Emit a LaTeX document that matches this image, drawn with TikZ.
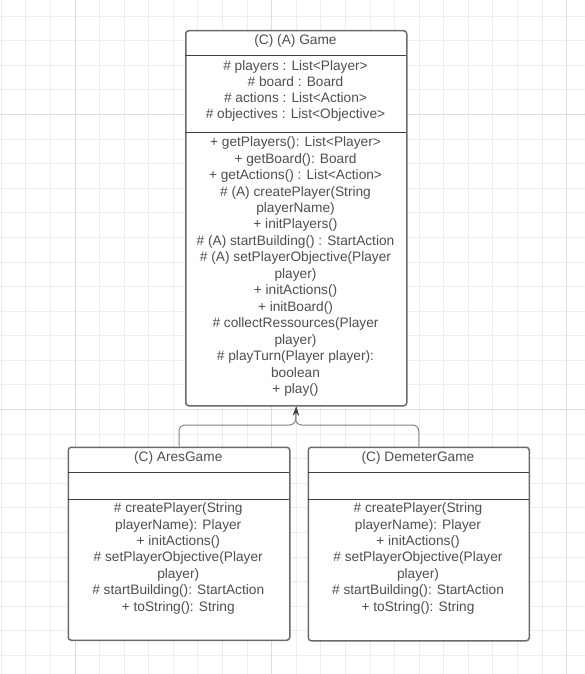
\documentclass[tikz,border=0pt]{standalone}
\usepackage{fontspec}
\setmainfont{Liberation Sans}
\usetikzlibrary{arrows.meta}
\definecolor{gridminor}{HTML}{EDEDED}
\definecolor{gridmajor}{HTML}{DCDCDC}
\definecolor{boxline}{HTML}{686B70}
\definecolor{divline}{HTML}{3E4045}
\definecolor{txtgray}{HTML}{4F4F4F}
\definecolor{connline}{HTML}{858585}
\begin{document}
\begin{tikzpicture}[x=1pt,y=-1pt,
  classbox/.style={rectangle, draw=boxline, line width=1.5pt, fill=white,
    rounded corners=3pt, anchor=north west, inner sep=0pt},
  divider/.style={draw=divline, line width=0.9pt},
  member/.style={font=\fontsize{13.7}{16}\selectfont, text=txtgray,
    anchor=mid, inner sep=0pt},
  inherit/.style={draw=connline, line width=1pt, rounded corners=6pt},
  tip/.style={-{Stealth[length=9pt,width=6pt,color=divline]}},
]
\useasboundingbox (0,0) rectangle (585,674);
\fill[white] (0,0) rectangle (585,674);

% background grid
\foreach \k in {0,...,23}
  \draw[gridminor, line width=1pt] ({1.25+24.585*\k},0) -- ({1.25+24.585*\k},674);
\foreach \k in {0,...,26}
  \draw[gridminor, line width=1pt] (0,{16.2+24.585*\k}) -- (585,{16.2+24.585*\k});
\foreach \k in {3,11,23}
  \draw[gridmajor, line width=1pt] ({1.25+24.585*\k},0) -- ({1.25+24.585*\k},674);
\foreach \k in {4,16}
  \draw[gridmajor, line width=1pt] (0,{16.2+24.585*\k}) -- (585,{16.2+24.585*\k});

% class boxes
\node[classbox, minimum width=221pt, minimum height=375pt] (game) at (185,30) {};
\node[classbox, minimum width=221.5pt, minimum height=193pt] (ares) at (67.5,446.5) {};
\node[classbox, minimum width=221pt, minimum height=193.5pt] (demeter) at (307.5,446.5) {};

% compartment dividers
\draw[divider] (185,55) -- (406,55);
\draw[divider] (185,132.7) -- (406,132.7);
\draw[divider] (67.5,472.5) -- (289,472.5);
\draw[divider] (67.5,499) -- (289,499);
\draw[divider] (307.5,472.7) -- (528.5,472.7);
\draw[divider] (307.5,499.2) -- (528.5,499.2);

% Game
\node[member] (gametitle) at (295.5,41.5) {(C) (A) Game};
\foreach \t [count=\i] in {
  {\# players : List<Player>},
  {\# board : Board},
  {\# actions : List<Action>},
  {\# objectives : List<Objective>}}
  \node[member] (gattr\i) at (295.5,{67.7+16*(\i-1)}) {\t};
\foreach \t [count=\i] in {
  {+ getPlayers(): List<Player>},
  {+ getBoard(): Board},
  {+ getActions() : List<Action>},
  {\# (A) createPlayer(String},
  {playerName)},
  {+ initPlayers()},
  {\# (A) startBuilding() : StartAction},
  {\# (A) setPlayerObjective(Player},
  {player)},
  {+ initActions()},
  {+ initBoard()},
  {\# collectRessources(Player},
  {player)},
  {\# playTurn(Player player):},
  {boolean},
  {+ play()}}
  \node[member] (gop\i) at (295.5,{144+16.47*(\i-1)}) {\t};

% AresGame
\node[member] (arestitle) at (178.25,458.5) {(C) AresGame};
\foreach \t [count=\i] in {
  {\# createPlayer(String},
  {playerName): Player},
  {+ initActions()},
  {\# setPlayerObjective(Player},
  {player)},
  {\# startBuilding(): StartAction},
  {+ toString(): String}}
  \node[member] (aop\i) at (178.25,{510+16.4*(\i-1)}) {\t};

% DemeterGame
\node[member] (demetertitle) at (418,458.5) {(C) DemeterGame};
\foreach \t [count=\i] in {
  {\# createPlayer(String},
  {playerName): Player},
  {+ initActions()},
  {\# setPlayerObjective(Player},
  {player)},
  {\# startBuilding(): StartAction},
  {+ toString(): String}}
  \node[member] (dop\i) at (418,{510+16.4*(\i-1)}) {\t};

% generalisation connectors
\coordinate (junction) at (295.5,425);
\draw[inherit, tip] (ares.north) |- (junction) -- (game.south);
\draw[inherit, tip] (demeter.north) |- (junction) -- (game.south);
\end{tikzpicture}
\end{document}
